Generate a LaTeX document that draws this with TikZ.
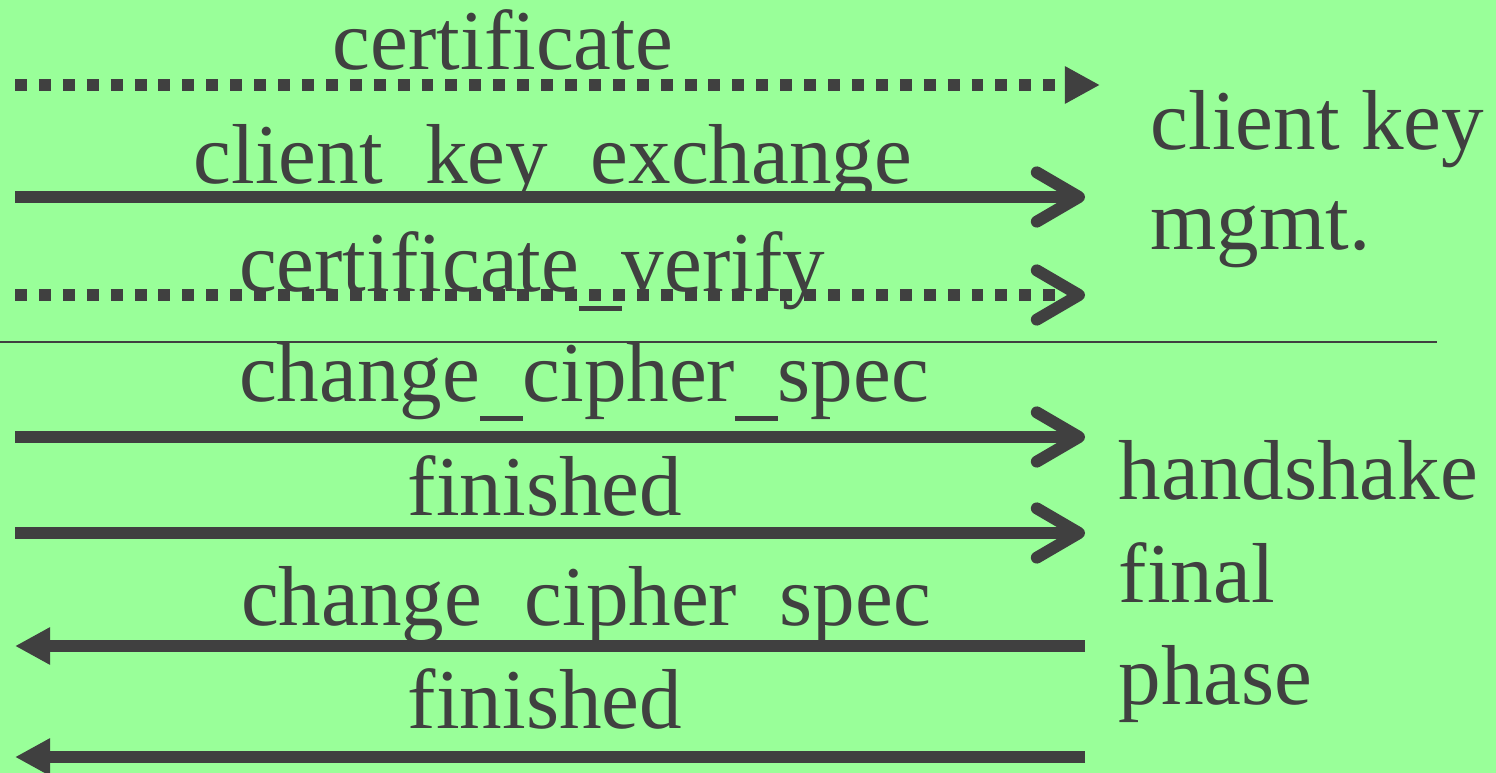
\documentclass[tikz,border=0pt]{standalone}
\usepackage{fontspec}
\setmainfont{Liberation Serif}
\usetikzlibrary{arrows.meta}
\definecolor{bggreen}{HTML}{99FF99}
\definecolor{inkgray}{HTML}{404040}
\newcommand\lowbar{\rule[-0.22em]{0.5em}{0.05em}}
\begin{document}
\begin{tikzpicture}
[x=0.01cm,y=-0.01cm,
  msgline/.style={line width=3.4pt,draw=inkgray},
  dotline/.style={msgline,dash pattern=on 3.4pt off 3.4pt},
  openhead/.style={-{Straight Barb[length=12pt,width=14pt,round]}},
  filledhead/.style={-{Triangle[length=10pt,width=10pt]}},
  msglabel/.style={anchor=base,text=inkgray,inner sep=0pt,font=\fontsize{24.2}{29}\selectfont},
  sidelabel/.style={msglabel,anchor=base west}]
\useasboundingbox[fill=bggreen] (0,0) rectangle (1496,773);
%% end points of the messages
\foreach \name/\y/\xr in {cert/85/1100, cke/197/1085, cv/295/1085, ccs/437/1085,
  fin/533/1085, sccs/646/1085, sfin/757/1085} {
  \coordinate (\name L) at (15,\y);
  \coordinate (\name R) at (\xr,\y);
}
\coordinate (sepL) at (0,342);
\coordinate (sepR) at (1437,342);
%% message labels
\foreach \name/\x/\y/\txt in {cert/503/70/certificate, cke/553/184/client\lowbar key\lowbar exchange,
  cv/532/292/certificate\lowbar verify, ccs/584/402/change\lowbar cipher\lowbar spec, fin/545/515/finished,
  sccs/586/626/change\lowbar cipher\lowbar spec, sfin/545/728/finished} {
  \node[msglabel] (\name T) at (\x,\y) {\txt};
}
%% phase labels
\node[sidelabel] (keyA) at (1150,150) {client key};
\node[sidelabel] (keyB) at (1150,250) {mgmt.};
\node[sidelabel] (finA) at (1118,500) {handshake};
\node[sidelabel] (finB) at (1118,603) {final};
\node[sidelabel] (finC) at (1118,705) {phase};
%% messages
\draw[dotline,filledhead] (certL) -- (certR);
\draw[msgline,openhead] (ckeL) -- (ckeR);
\draw[dotline,openhead] (cvL) -- (cvR);
\draw[msgline,openhead] (ccsL) -- (ccsR);
\draw[msgline,openhead] (finL) -- (finR);
\draw[msgline,filledhead] (sccsR) -- (sccsL);
\draw[msgline,filledhead] (sfinR) -- (sfinL);
\draw[draw=inkgray,line width=0.6pt] (sepL) -- (sepR);
\end{tikzpicture}
\end{document}
